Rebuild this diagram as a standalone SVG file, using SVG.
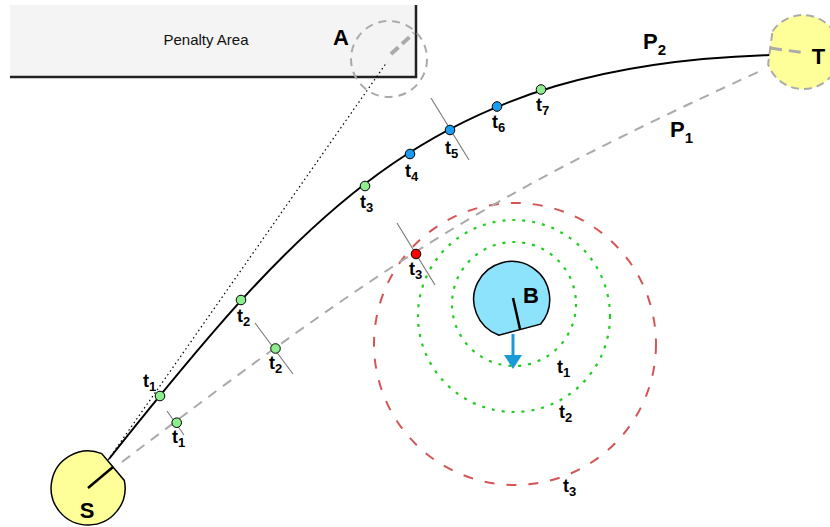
<svg xmlns="http://www.w3.org/2000/svg" width="830" height="527" viewBox="0 0 830 527">
<defs>
<style>
.lbl{font-family:"Liberation Sans",Arial,sans-serif;font-weight:bold;fill:#000}
.big{font-size:22px}
.t{font-size:18px}
.sub{font-size:13px}
.dot{stroke:#000;stroke-width:1}
.g{fill:#8cee8c}
.b{fill:#1c9cf0}
.r{fill:#ff0000}
.tick{stroke:#777;stroke-width:1.1;fill:none}
.gray{stroke:#aaa;fill:none}
.ring1{fill:none;stroke:#22cc22;stroke-width:2.2;stroke-dasharray:3 7}
</style>
<marker id="arr" markerUnits="userSpaceOnUse" markerWidth="20" markerHeight="20" refX="0" refY="9" orient="auto">
<path d="M0,0 L14,9 L0,18 Z" fill="#1a9ad6"/>
</marker>
</defs>
<rect width="830" height="527" fill="#fff"/>

<g id="penalty-area">
<rect x="10" y="5" width="406" height="72" fill="#f4f4f4"/>
<polyline points="416,5 416,77 10,77" fill="none" stroke="#222" stroke-width="2.5"/>
<text x="206" y="45" text-anchor="middle" font-family="Liberation Sans,Arial,sans-serif" font-size="15" fill="#111">Penalty Area</text>
</g>

<g id="ranges">
<circle cx="514" cy="304" r="62" class="ring1"/>
<circle cx="514" cy="316" r="96" class="ring1"/>
<circle cx="515" cy="344" r="141" fill="none" stroke="#d45555" stroke-width="2" stroke-dasharray="10 12"/>
<text class="lbl t" x="557" y="373">t<tspan class="sub" dy="4">1</tspan></text>
<text class="lbl t" x="559" y="418">t<tspan class="sub" dy="4">2</tspan></text>
<text class="lbl t" x="563" y="492">t<tspan class="sub" dy="4">3</tspan></text>
</g>

<g id="connectors">
<path id="P2" d="M109,459 C314,201 439,65 770,55" fill="none" stroke="#000" stroke-width="2"/>
<path id="P1" d="M122,462 C392,257 488,196 758,72" class="gray" stroke-width="2" stroke-dasharray="10 8"/>
<line x1="108" y1="460" x2="387" y2="62" stroke="#000" stroke-width="1.2" stroke-dasharray="1.5 3"/>
<text class="lbl big" x="643" y="49">P<tspan font-size="15" dy="6">2</tspan></text>
<text class="lbl big" x="670" y="137">P<tspan font-size="15" dy="6">1</tspan></text>
</g>

<g id="ticks">
<line class="tick" x1="167" y1="411" x2="184" y2="435"/>
<line class="tick" x1="255" y1="323" x2="293" y2="374"/>
<line class="tick" x1="397" y1="223" x2="435" y2="285"/>
<line class="tick" x1="431" y1="98" x2="469" y2="160"/>
</g>

<g id="A">
<circle cx="389" cy="59" r="38" class="gray" stroke-width="2" stroke-dasharray="8 6"/>
<line x1="391" y1="54" x2="414" y2="33" class="gray" stroke-width="4" stroke-dasharray="10 5"/>
<text class="lbl big" x="341" y="45" text-anchor="middle">A</text>
</g>

<g id="S">
<path d="M101.7,453.6 A37,37 0 1,0 124.3,480.4 Z" fill="#ffff99" stroke="#000" stroke-width="1.5"/>
<line x1="88" y1="488" x2="113" y2="467" stroke="#000" stroke-width="2.5"/>
<text class="lbl big" x="87" y="518" text-anchor="middle">S</text>
</g>

<g id="T">
<path d="M772.5,31.2 A37,37 0 1,1 768.1,64.2 Z" fill="#ffff99" stroke="#aaa" stroke-width="2" stroke-dasharray="8 5"/>
<line x1="770" y1="48" x2="806" y2="53" class="gray" stroke-width="3" stroke-dasharray="12 7"/>
<text class="lbl big" x="818.5" y="64" text-anchor="middle">T</text>
</g>

<g id="B">
<path d="M540.5,324.2 A38,38 0 1,0 498.9,335.2 Z" fill="#8de3fb" stroke="#000" stroke-width="1.5"/>
<line x1="513" y1="298" x2="520" y2="329" stroke="#000" stroke-width="2.5"/>
<line x1="513" y1="334" x2="513" y2="355" stroke="#1a9ad6" stroke-width="3" marker-end="url(#arr)"/>
<text class="lbl big" x="531" y="303" text-anchor="middle">B</text>
</g>

<g id="p2-points">
<circle class="dot g" cx="160" cy="396" r="4.8"/>
<text class="lbl t" x="143" y="387">t<tspan class="sub" dy="4">1</tspan></text>
<circle class="dot g" cx="241" cy="300" r="4.8"/>
<text class="lbl t" x="237" y="322">t<tspan class="sub" dy="4">2</tspan></text>
<circle class="dot g" cx="365" cy="186" r="4.8"/>
<text class="lbl t" x="360" y="208">t<tspan class="sub" dy="4">3</tspan></text>
<circle class="dot b" cx="410" cy="154" r="4.8"/>
<text class="lbl t" x="405" y="177">t<tspan class="sub" dy="4">4</tspan></text>
<circle class="dot b" cx="450" cy="130" r="4.8"/>
<text class="lbl t" x="445" y="154">t<tspan class="sub" dy="4">5</tspan></text>
<circle class="dot b" cx="497" cy="106.5" r="4.8"/>
<text class="lbl t" x="492" y="128">t<tspan class="sub" dy="4">6</tspan></text>
<circle class="dot g" cx="541" cy="89.5" r="4.8"/>
<text class="lbl t" x="536" y="111">t<tspan class="sub" dy="4">7</tspan></text>
</g>

<g id="p1-points">
<circle class="dot g" cx="176.7" cy="422.7" r="4.8"/>
<text class="lbl t" x="172" y="443">t<tspan class="sub" dy="4">1</tspan></text>
<circle class="dot g" cx="275.5" cy="348.5" r="4.8"/>
<text class="lbl t" x="269" y="369">t<tspan class="sub" dy="4">2</tspan></text>
<circle class="dot r" cx="416" cy="254" r="4.8"/>
<text class="lbl t" x="409" y="275">t<tspan class="sub" dy="4">3</tspan></text>
</g>
</svg>
